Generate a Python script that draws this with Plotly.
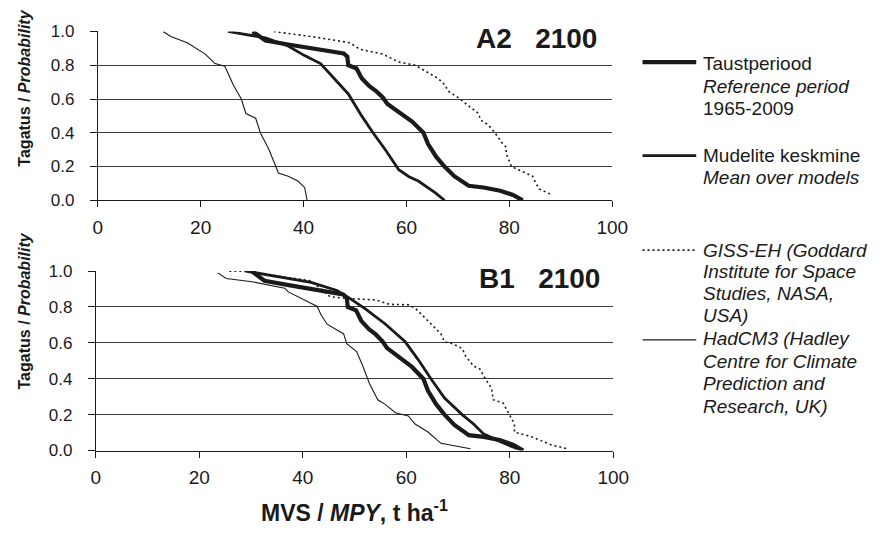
import plotly.graph_objects as go

W, H = 886, 538
FONT = "Liberation Sans, Arial, sans-serif"
INK = "#1a1a1a"

# ---- data: yield (t/ha) vs. exceedance probability ----
# Reference period 1965-2009 (shared by both scenarios)
ref_mpy = [30.1, 32.6, 37.0, 43.3, 47.8, 48.5, 48.7, 50.3, 51.3, 52.2, 52.8, 54.1, 55.4,
           56.3, 58.5, 61.1, 63.3, 64.2, 65.8, 67.4, 69.3, 72.1, 75.0, 78.2, 80.7, 82.6]
ref_prob = [1.0, 0.946, 0.923, 0.895, 0.870, 0.851, 0.80, 0.781, 0.723, 0.695, 0.676, 0.647, 0.609,
            0.571, 0.523, 0.466, 0.40, 0.333, 0.257, 0.20, 0.143, 0.086, 0.076, 0.057, 0.032, 0.0]

# A2 scenario, 2100
a2_mean_mpy = [25.3, 30.0, 32.6, 37.0, 40.2, 43.3, 45.9, 48.7, 51.3, 53.5, 56.0, 58.5, 60.5, 62.3, 65.5, 67.4]
a2_mean_prob = [1.0, 0.975, 0.962, 0.914, 0.857, 0.81, 0.723, 0.63, 0.50, 0.40, 0.295, 0.181, 0.14, 0.114, 0.047, 0.0]

a2_giss_mpy = [34.2, 43.3, 49.0, 50.9, 55.4, 58.5, 61.7, 63.3, 66.1, 67.4, 68.1, 70.0, 72.5,
               74.0, 74.4, 75.9, 77.2, 78.5, 79.4, 79.4, 80.4, 82.6, 84.5, 85.1, 85.8, 88.3]
a2_giss_prob = [1.0, 0.962, 0.933, 0.895, 0.866, 0.819, 0.80, 0.771, 0.723, 0.686, 0.647, 0.609, 0.552,
                0.514, 0.476, 0.447, 0.40, 0.343, 0.314, 0.276, 0.20, 0.171, 0.143, 0.105, 0.067, 0.032]

a2_had_mpy = [12.7, 14.2, 17.4, 19.3, 20.9, 22.8, 24.7, 26.3, 27.9, 28.8, 30.7, 31.6, 33.2,
              34.5, 35.1, 37.0, 38.9, 40.2, 40.7]
a2_had_prob = [1.0, 0.97, 0.933, 0.895, 0.866, 0.81, 0.794, 0.686, 0.60, 0.514, 0.486, 0.40, 0.305,
               0.209, 0.162, 0.143, 0.114, 0.076, 0.0]

# B1 scenario, 2100
b1_mean_mpy = [29.0, 37.2, 41.6, 46.6, 49.1, 52.3, 56.0, 59.8, 62.3, 64.8, 67.4, 70.8, 73.0, 74.9, 78.1, 81.5]
b1_mean_prob = [1.0, 0.959, 0.937, 0.892, 0.848, 0.785, 0.704, 0.606, 0.507, 0.399, 0.292, 0.20, 0.148, 0.094, 0.05, 0.01]

b1_giss_mpy = [25.8, 28.4, 38.4, 41.6, 45.3, 48.5, 54.2, 56.7, 60.4, 61.7, 63.6, 66.7, 67.4, 68.9,
               70.8, 71.5, 73.0, 74.3, 74.9, 76.5, 76.8, 78.7, 79.9, 80.9, 80.9, 84.3, 88.1, 91.1]
b1_giss_prob = [1.0, 1.0, 0.959, 0.946, 0.857, 0.848, 0.839, 0.815, 0.812, 0.794, 0.74, 0.65, 0.606, 0.596,
                0.569, 0.525, 0.471, 0.453, 0.417, 0.346, 0.283, 0.265, 0.202, 0.148, 0.103, 0.076, 0.031, 0.01]

b1_had_mpy = [23.6, 25.2, 30.2, 36.5, 37.2, 40.3, 42.8, 43.5, 44.7, 47.9, 48.5, 50.4, 51.6, 52.9,
              54.5, 56.0, 57.9, 60.4, 61.7, 64.2, 66.7, 72.4]
b1_had_prob = [0.99, 0.959, 0.941, 0.905, 0.884, 0.839, 0.803, 0.758, 0.704, 0.65, 0.596, 0.552, 0.471, 0.372,
               0.283, 0.256, 0.211, 0.193, 0.148, 0.103, 0.04, 0.01]

x_ticks = [0, 20, 40, 60, 80, 100]
y_ticks = [0.0, 0.2, 0.4, 0.6, 0.8, 1.0]
panel_titles = ["A2\u00a0\u00a0\u00a02100", "B1\u00a0\u00a0\u00a02100"]
y_title = "<b>Tagatus / <i>Probability</i></b>"
x_title = "<b>MVS / <i>MPY</i>, t ha<sup>-1</sup></b>"

legend_blocks = [
    ["Taustperiood", "<i>Reference period</i>", "1965-2009"],
    ["Mudelite keskmine", "<i>Mean over models</i>"],
    ["<i>GISS-EH (Goddard</i>", "<i>Institute for Space</i>", "<i>Studies, NASA,</i>", "<i>USA)</i>"],
    ["<i>HadCM3 (Hadley</i>", "<i>Centre for Climate</i>", "<i>Prediction and</i>", "<i>Research, UK)</i>"],
]

# ---- styles ----
styles = {
    "had": dict(color=INK, width=1.1),
    "giss": dict(color=INK, width=1.6, dash="2px,3px"),
    "mean": dict(color=INK, width=2.8),
    "ref": dict(color=INK, width=4.2),
}
legend_keys = ["ref", "mean", "giss", "had"]
legend_line_y = [55, 152, 250, 343]
legend_text_y = [[56.7, 80, 103], [151.7, 175], [250, 272, 295, 318], [342, 365, 388, 412]]


def px(x):
    return x / W


def py(y):
    return 1 - y / H


panels = [
    dict(xa="x", ya="y", xdom=(95, 622), ydom=(23.3, 198.3),
         series=[("had", a2_had_mpy, a2_had_prob), ("giss", a2_giss_mpy, a2_giss_prob),
                 ("mean", a2_mean_mpy, a2_mean_prob), ("ref", ref_mpy, ref_prob)],
         title_xy=(544, 31), cover=(473, 630, 12, 44), ytitle_y=82),
    dict(xa="x2", ya="y2", xdom=(93, 623), ydom=(271.7, 457.7),
         series=[("had", b1_had_mpy, b1_had_prob), ("giss", b1_giss_mpy, b1_giss_prob),
                 ("mean", b1_mean_mpy, b1_mean_prob), ("ref", ref_mpy, ref_prob)],
         title_xy=(547, 279), cover=(469, 630, 260, 296), ytitle_y=313),
]

fig = go.Figure()
shapes = []
annotations = []
layout_axes = {}

for i, p in enumerate(panels):
    for key, xs, ys in p["series"]:
        fig.add_trace(go.Scatter(x=xs, y=ys, mode="lines", line=styles[key],
                                 xaxis=p["xa"], yaxis=p["ya"], showlegend=False,
                                 cliponaxis=False, hoverinfo="skip"))
    sfx = "" if i == 0 else str(i + 1)
    layout_axes["xaxis" + sfx] = dict(
        domain=[px(p["xdom"][0]), px(p["xdom"][1])], anchor=p["ya"], range=[0, 100],
        tickvals=x_ticks, ticks="outside", ticklen=6, tickcolor=INK, tickwidth=1,
        showline=True, linecolor=INK, linewidth=1, showgrid=False, zeroline=False,
        tickfont=dict(family=FONT, size=19, color=INK), ticklabelstandoff=4)
    layout_axes["yaxis" + sfx] = dict(
        domain=[py(p["ydom"][1]), py(p["ydom"][0])], anchor=p["xa"], range=[0, 1],
        tickvals=y_ticks, tickformat=".1f", ticks="outside", ticklen=7, tickcolor=INK,
        tickwidth=1, showline=True, linecolor=INK, linewidth=1, showgrid=True,
        gridcolor="#3c3c3c", gridwidth=1, zeroline=False,
        tickfont=dict(family=FONT, size=17, color=INK), ticklabelstandoff=12)
    cx0, cx1, cy0, cy1 = p["cover"]
    shapes.append(dict(type="rect", xref="paper", yref="paper", x0=px(cx0), x1=px(cx1),
                       y0=py(cy1), y1=py(cy0), fillcolor="white", line=dict(width=0), layer="above"))
    tx, ty = p["title_xy"]
    annotations.append(dict(text="<b>" + panel_titles[i] + "</b>", x=px(tx), y=py(ty),
                            xref="paper", yref="paper", xanchor="center", yanchor="middle",
                            showarrow=False, font=dict(family=FONT, size=28, color=INK)))
    annotations.append(dict(text=y_title, x=px(20), y=py(p["ytitle_y"]), xref="paper", yref="paper",
                            xanchor="center", yanchor="middle", textangle=-90, showarrow=False,
                            font=dict(family=FONT, size=16, color=INK)))

annotations.append(dict(text=x_title, x=px(358), y=py(520), xref="paper", yref="paper",
                        xanchor="center", yanchor="middle", showarrow=False,
                        font=dict(family=FONT, size=23, color=INK)))

# legend: line samples and stacked text lines
for key, ly, lines, tys in zip(legend_keys, legend_line_y, legend_blocks, legend_text_y):
    st = styles[key]
    shapes.append(dict(type="line", xref="paper", yref="paper", x0=px(653), x1=px(708),
                       y0=py(ly), y1=py(ly),
                       line=dict(color=st["color"], width=st["width"], dash=st.get("dash", "solid"))))
    for txt, ty in zip(lines, tys):
        annotations.append(dict(text=txt, x=px(713), y=py(ty), xref="paper", yref="paper",
                                xanchor="left", yanchor="middle", showarrow=False,
                                font=dict(family=FONT, size=19, color=INK)))

fig.update_layout(
    width=W, height=H, margin=dict(l=0, r=0, t=0, b=0),
    paper_bgcolor="white", plot_bgcolor="white",
    shapes=shapes, annotations=annotations, showlegend=False,
    **layout_axes,
)

fig.write_html("out.html")
